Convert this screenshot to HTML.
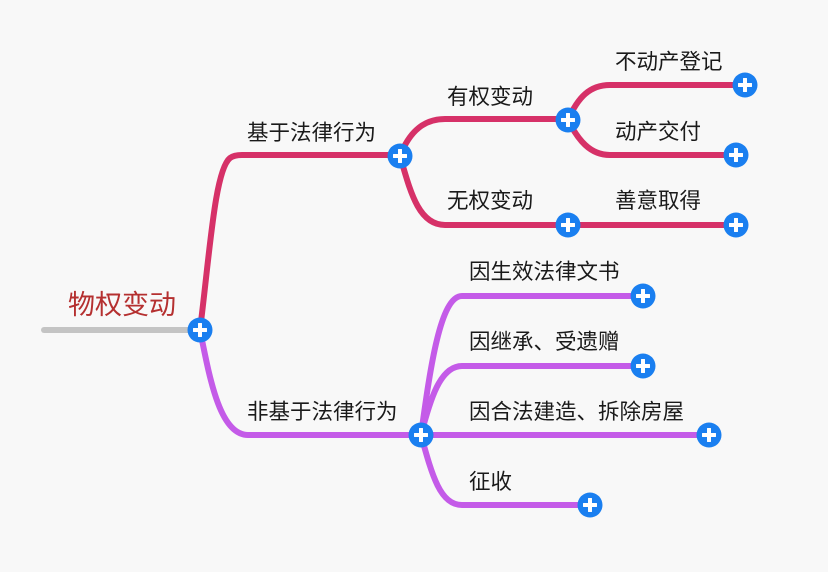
<!DOCTYPE html>
<html><head><meta charset="utf-8"><style>
html,body{margin:0;padding:0;background:#f8f8f8;}
svg{display:block;}
text{font-family:"Liberation Sans","Noto Sans CJK SC",sans-serif;font-size:21.5px;fill:#1a1a1a;}
</style></head><body>
<svg width="828" height="572" viewBox="0 0 828 572" xmlns="http://www.w3.org/2000/svg">
<defs>
<g id="p">
<circle r="12.5" fill="#1a7ff0"/>
<rect x="-7" y="-2" width="14" height="4" fill="#fff" rx="0.5"/>
<rect x="-2" y="-7" width="4" height="14" fill="#fff" rx="0.5"/>
</g>
</defs>
<line x1="44" y1="330" x2="195" y2="330" stroke="#c4c4c4" stroke-width="6" stroke-linecap="round"/>
<g fill="none" stroke="#d63168" stroke-width="6" stroke-linecap="round">
<path d="M200 330 C210 250 215 170 230 158 Q234 155 242 155 L400 155"/>
<path d="M400 156 C410 130 425 119 445 119 L568 119"/>
<path d="M400 156 C410 190 418 225 445 225 L568 225"/>
<path d="M568 120 C578 97 590 85 610 85 L745 85"/>
<path d="M568 120 C578 140 590 155 610 155 L736 155"/>
<path d="M568 225 L736 225"/>
</g>
<g fill="none" stroke="#c45be8" stroke-width="6" stroke-linecap="round">
<path d="M200 330 C210 380 220 435 248 435 L421 435"/>
<path d="M421 435 C430 370 440 296 462 296 L643 296"/>
<path d="M421 435 C430 400 440 366 462 366 L643 366"/>
<path d="M421 435 L709 435"/>
<path d="M421 435 C432 475 440 505 462 505 L590 505"/>
</g>
<text x="68" y="314" style="font-size:27px;fill:#b53030">物权变动</text>
<text x="247" y="140">基于法律行为</text>
<text x="447" y="104">有权变动</text>
<text x="447" y="208">无权变动</text>
<text x="615" y="69">不动产登记</text>
<text x="615" y="139">动产交付</text>
<text x="615" y="208">善意取得</text>
<text x="247" y="419">非基于法律行为</text>
<text x="469" y="279">因生效法律文书</text>
<text x="469" y="349">因继承、受遗赠</text>
<text x="469" y="419">因合法建造、拆除房屋</text>
<text x="469" y="489">征收</text>
<use href="#p" x="200" y="330"/>
<use href="#p" x="400" y="156"/>
<use href="#p" x="568" y="120"/>
<use href="#p" x="568" y="225"/>
<use href="#p" x="745" y="85"/>
<use href="#p" x="736" y="155"/>
<use href="#p" x="736" y="225"/>
<use href="#p" x="421" y="435"/>
<use href="#p" x="643" y="296"/>
<use href="#p" x="643" y="366"/>
<use href="#p" x="709" y="435"/>
<use href="#p" x="590" y="505"/>
</svg>
</body></html>
